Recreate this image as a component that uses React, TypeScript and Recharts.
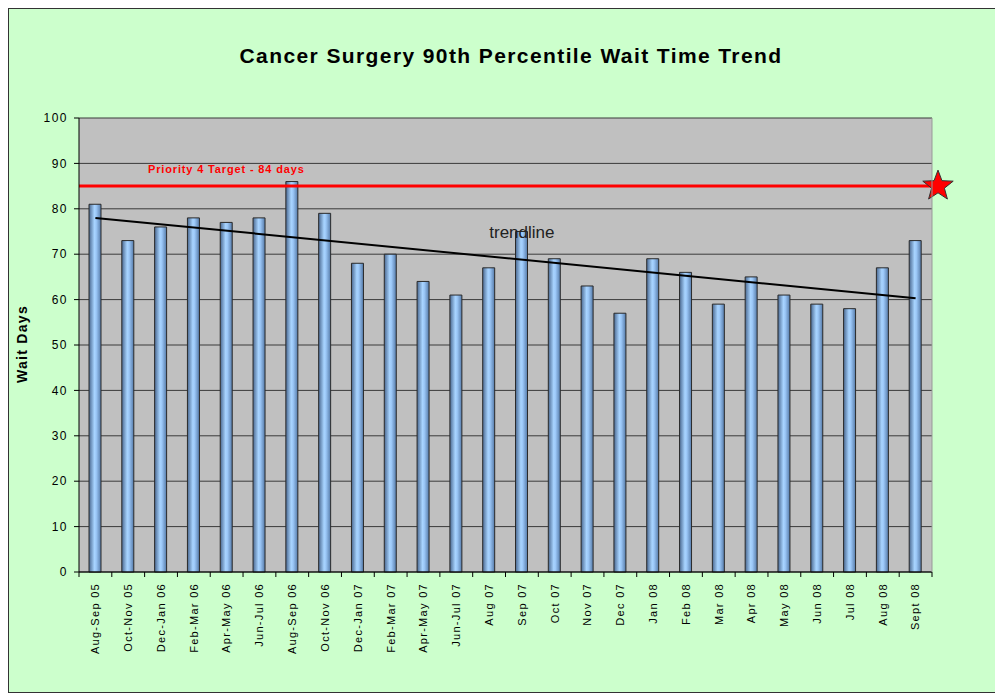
import React from 'react';
import {
  BarChart,
  Bar,
  XAxis,
  YAxis,
  CartesianGrid,
  ReferenceLine,
  ReferenceDot,
} from 'recharts';

const periods = [
  'Aug-Sep 05', 'Oct-Nov 05', 'Dec-Jan 06', 'Feb-Mar 06', 'Apr-May 06', 'Jun-Jul 06',
  'Aug-Sep 06', 'Oct-Nov 06', 'Dec-Jan 07', 'Feb-Mar 07', 'Apr-May 07', 'Jun-Jul 07',
  'Aug 07', 'Sep 07', 'Oct 07', 'Nov 07', 'Dec 07', 'Jan 08', 'Feb 08', 'Mar 08',
  'Apr 08', 'May 08', 'Jun 08', 'Jul 08', 'Aug 08', 'Sept 08',
];

const waitDays = [
  81, 73, 76, 78, 77, 78, 86, 79, 68, 70, 64, 61, 67, 75, 69, 63, 57, 69, 66, 59,
  65, 61, 59, 58, 67, 73,
];

const yTicks = [0, 10, 20, 30, 40, 50, 60, 70, 80, 90, 100];
const targetValue = 85;
const trendStart = 78;
const trendEnd = 60.3;
const trendLabelY = 75;

const data = periods.map((name, i) => ({ name, days: waitDays[i] }));

const FONT = '"Liberation Sans", Arial, sans-serif';

const starPoints = (cx: number, cy: number, r: number) => {
  const pts: string[] = [];
  for (let i = 0; i < 10; i++) {
    const rad = i % 2 === 0 ? r : r * 0.42;
    const a = -Math.PI / 2 + (i * Math.PI) / 5;
    pts.push(`${cx + rad * Math.cos(a)},${cy + rad * Math.sin(a)}`);
  }
  return pts.join(' ');
};

const TargetShape = (props: any) => {
  const { x1, y1, x2, y2 } = props;
  return (
    <g>
      <line x1={x1} y1={y1} x2={x2 + 6} y2={y2} stroke="#ff0000" strokeWidth={3} />
      <text
        x={x1 + 69}
        y={y1 - 13}
        fill="#ff0000"
        fontSize={11}
        fontWeight="bold"
        fontFamily={FONT}
        letterSpacing={0.85}
      >
        Priority 4 Target - 84 days
      </text>
      <polygon
        points={starPoints(x2 + 6, y2, 16)}
        fill="#ff0000"
        stroke="#333"
        strokeWidth={1}
      />
    </g>
  );
};

const XTick = (props: any) => {
  const { x, y, payload, index } = props;
  const off = payload.offset || 0;
  return (
    <g>
      <line x1={x - off} y1={y} x2={x - off} y2={y + 5} stroke="#000" />
      {index === periods.length - 1 && (
        <line x1={x + off} y1={y} x2={x + off} y2={y + 5} stroke="#000" />
      )}
      <text
        transform={`translate(${x},${y + 11}) rotate(-90)`}
        textAnchor="end"
        dy="0.35em"
        fontSize={11}
        letterSpacing={1.3}
        fontFamily={FONT}
        fill="#000"
      >
        {payload.value}
      </text>
    </g>
  );
};

export default function App() {
  return (
    <div
      style={{
        position: 'relative',
        width: 995,
        height: 685,
        boxSizing: 'border-box',
        border: '1px solid #333',
        background: '#ccffcc',
        overflow: 'hidden',
        fontFamily: FONT,
      }}
    >
      <div
        style={{
          position: 'absolute',
          left: 0,
          top: 35,
          width: 1004,
          textAlign: 'center',
          fontSize: 21,
          letterSpacing: 1.4,
          fontWeight: 'bold',
          color: '#000',
        }}
      >
        Cancer Surgery 90th Percentile Wait Time Trend
      </div>
      <div
        style={{
          position: 'absolute',
          left: -37,
          top: 327,
          width: 100,
          textAlign: 'center',
          fontSize: 14,
          letterSpacing: 1.3,
          fontWeight: 'bold',
          transform: 'rotate(-90deg)',
        }}
      >
        Wait Days
      </div>
      <div style={{ position: 'absolute', left: 0, top: 0 }}>
        <BarChart
          width={993}
          height={683}
          data={data}
          margin={{ top: 109, right: 20, bottom: 40, left: 20 }}
          barCategoryGap={0}
        >
          <defs>
            <linearGradient id="barFill" x1="0" y1="0" x2="1" y2="0">
              <stop offset="0%" stopColor="#4a6890" />
              <stop offset="45%" stopColor="#a8d4ff" />
              <stop offset="60%" stopColor="#9cc8f8" />
              <stop offset="100%" stopColor="#557aa8" />
            </linearGradient>
          </defs>
          <CartesianGrid
            yAxisId="left"
            vertical={false}
            stroke="#3a3a3a"
            fill="#c0c0c0"
            fillOpacity={1}
            strokeDasharray=""
          />
          <XAxis
            dataKey="name"
            interval={0}
            height={80}
            tickLine={false}
            tickSize={0}
            tickMargin={0}
            axisLine={{ stroke: '#000' }}
            tick={<XTick />}
          />
          <YAxis
            yAxisId="left"
            domain={[0, 100]}
            ticks={yTicks}
            interval={0}
            width={50}
            tickSize={5}
            tickMargin={6}
            axisLine={{ stroke: '#000' }}
            tickLine={{ stroke: '#000' }}
            tick={{ fill: '#000', fontSize: 12, letterSpacing: 1.5, fontFamily: FONT }}
          />
          <YAxis
            yAxisId="right"
            orientation="right"
            domain={[0, 100]}
            ticks={yTicks}
            width={50}
            tick={false}
            tickLine={false}
            axisLine={{ stroke: '#999' }}
          />
          <Bar
            yAxisId="left"
            dataKey="days"
            barSize={12}
            fill="url(#barFill)"
            stroke="#2a2a2a"
            strokeWidth={1}
            isAnimationActive={false}
          />
          <ReferenceLine
            yAxisId="left"
            y={targetValue}
            ifOverflow="visible"
            shape={<TargetShape />}
          />
          <ReferenceLine
            yAxisId="left"
            segment={[
              { x: periods[0], y: trendStart },
              { x: periods[periods.length - 1], y: trendEnd },
            ]}
            stroke="#000"
            strokeWidth={2}
          />
          <ReferenceDot
            yAxisId="left"
            x="Sep 07"
            y={trendLabelY}
            r={0}
            fill="none"
            stroke="none"
            label={{ value: 'trendline', position: 'center', fontSize: 17, fill: '#222', fontFamily: FONT }}
          />
        </BarChart>
      </div>
    </div>
  );
}
